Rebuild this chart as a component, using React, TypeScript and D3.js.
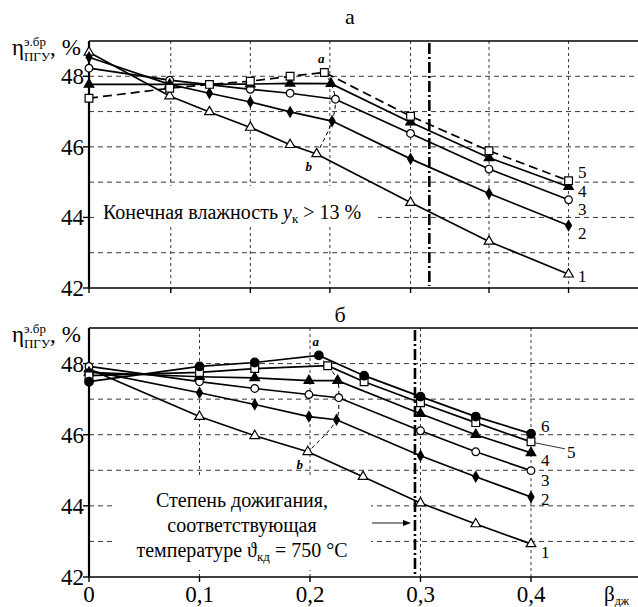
import React from 'react';
import * as d3 from 'd3';

const W = 638;
const H = 607;
const FONT = '"Liberation Serif", "DejaVu Serif", serif';

// панель а: β_дж и η по кривым 1..5
const aBeta1 = [0, 0.073, 0.109, 0.146, 0.182, 0.206, 0.291, 0.362, 0.434];
const aEta1 = [48.68, 47.44, 46.99, 46.55, 46.06, 45.8, 44.42, 43.32, 42.39];
const aBeta2 = [0, 0.073, 0.109, 0.146, 0.182, 0.22, 0.291, 0.362, 0.434];
const aEta2 = [48.54, 47.77, 47.52, 47.27, 46.99, 46.73, 45.66, 44.68, 43.77];
const aBeta3 = [0, 0.073, 0.146, 0.182, 0.223, 0.291, 0.362, 0.434];
const aEta3 = [48.23, 47.89, 47.63, 47.52, 47.35, 46.38, 45.37, 44.5];
const aBeta4 = [0, 0.073, 0.146, 0.182, 0.219, 0.291, 0.362, 0.434];
const aEta4 = [47.77, 47.77, 47.78, 47.8, 47.79, 46.7, 45.69, 44.87];
const aBeta5 = [0, 0.073, 0.109, 0.146, 0.182, 0.213, 0.291, 0.362, 0.434];
const aEta5 = [47.38, 47.66, 47.77, 47.86, 48.0, 48.11, 46.87, 45.89, 45.04];
const aGridBeta = [0.074, 0.146, 0.218, 0.291, 0.362, 0.434];
const aLimitBeta = 0.308;

// панель б: кривые 1..6
const bBeta1 = [0, 0.1, 0.15, 0.198, 0.248, 0.3, 0.35, 0.4];
const bEta1 = [47.85, 46.51, 45.97, 45.52, 44.82, 44.08, 43.49, 42.93];
const bBeta2 = [0, 0.1, 0.15, 0.199, 0.224, 0.3, 0.35, 0.4];
const bEta2 = [47.8, 47.18, 46.85, 46.51, 46.42, 45.41, 44.82, 44.25];
const bBeta3 = [0, 0.1, 0.15, 0.199, 0.226, 0.3, 0.35, 0.4];
const bEta3 = [47.92, 47.49, 47.3, 47.13, 47.04, 46.11, 45.52, 44.99];
const bBeta4 = [0, 0.1, 0.15, 0.199, 0.225, 0.3, 0.35, 0.4];
const bEta4 = [47.75, 47.63, 47.6, 47.52, 47.52, 46.59, 46.0, 45.49];
const bBeta5 = [0, 0.1, 0.15, 0.216, 0.249, 0.3, 0.35, 0.4];
const bEta5 = [47.66, 47.75, 47.86, 47.94, 47.49, 46.9, 46.34, 45.8];
const bBeta6 = [0, 0.1, 0.15, 0.208, 0.249, 0.3, 0.35, 0.4];
const bEta6 = [47.49, 47.92, 48.03, 48.23, 47.66, 47.07, 46.51, 46.03];
const bGridBeta = [0.1, 0.2, 0.3, 0.4];
const bLimitBeta = 0.295;

const xTicks = [0, 0.1, 0.2, 0.3, 0.4];
const xTickLabels = ['0', '0,1', '0,2', '0,3', '0,4'];
const yTicks = [42, 44, 46, 48];
const yGrid = [43, 44, 45, 46, 47, 48];

const x = d3.scaleLinear().domain([0, 0.5]).range([89, 641.5]);
const yA = d3.scaleLinear().domain([42, 49]).range([288, 41]);
const yB = d3.scaleLinear().domain([42, 49]).range([577, 328]);

type Pt = [number, number];
const zip = (b: number[], e: number[]): Pt[] => b.map((v, i) => [v, e[i]]);

const markers = {
  tri: { type: d3.symbolTriangle, size: 40, fill: '#fff' },
  diamond: { type: d3.symbolDiamond, size: 30, fill: '#000' },
  circle: { type: d3.symbolCircle, size: 46, fill: '#fff' },
  triFill: { type: d3.symbolTriangle, size: 40, fill: '#000' },
  square: { type: d3.symbolSquare, size: 60, fill: '#fff' },
  dot: { type: d3.symbolCircle, size: 58, fill: '#000' },
};

const seriesA = [
  { id: '1', pts: zip(aBeta1, aEta1), m: markers.tri, dash: null },
  { id: '2', pts: zip(aBeta2, aEta2), m: markers.diamond, dash: null },
  { id: '3', pts: zip(aBeta3, aEta3), m: markers.circle, dash: null },
  { id: '4', pts: zip(aBeta4, aEta4), m: markers.triFill, dash: null },
  { id: '5', pts: zip(aBeta5, aEta5), m: markers.square, dash: '9,5' },
];
const seriesB = [
  { id: '1', pts: zip(bBeta1, bEta1), m: markers.tri, dash: null },
  { id: '2', pts: zip(bBeta2, bEta2), m: markers.diamond, dash: null },
  { id: '3', pts: zip(bBeta3, bEta3), m: markers.circle, dash: null },
  { id: '4', pts: zip(bBeta4, bEta4), m: markers.triFill, dash: null },
  { id: '5', pts: zip(bBeta5, bEta5), m: markers.square, dash: null },
  { id: '6', pts: zip(bBeta6, bEta6), m: markers.dot, dash: null },
];

// линия a-b через точки излома
const abA: Pt[] = [seriesA[4].pts[5], seriesA[3].pts[4], seriesA[2].pts[4], seriesA[1].pts[5], seriesA[0].pts[5]];
const abB: Pt[] = [seriesB[5].pts[3], seriesB[4].pts[3], seriesB[3].pts[4], seriesB[2].pts[4], seriesB[1].pts[4], seriesB[0].pts[3]];

function Panel({ y, series, ab, gridBeta, limitBeta, top, bottom, title, labelY, labels, textBox, children }: any) {
  const line = d3.line<Pt>().x(d => x(d[0])).y(d => y(d[1]));
  const curve = d3.line<Pt>().x(d => x(d[0])).y(d => y(d[1])).curve(d3.curveCatmullRom);
  return (
    <g>
      {yGrid.map(v => (
        <line key={'h' + v} x1={x(0)} x2={W} y1={y(v)} y2={y(v)} stroke="#222" strokeWidth={0.9} strokeDasharray="5,4" />
      ))}
      {gridBeta.map((b: number) => (
        <line key={'v' + b} x1={x(b)} x2={x(b)} y1={top} y2={bottom} stroke="#222" strokeWidth={0.9} strokeDasharray="3,3" />
      ))}
      <rect x={textBox[0]} y={textBox[1]} width={textBox[2]} height={textBox[3]} fill="#fff" />
      <line x1={x(limitBeta)} x2={x(limitBeta)} y1={top + 2} y2={bottom - 2} stroke="#000" strokeWidth={2.6} strokeDasharray="11,3,2,3" />
      {/* рамка */}
      <line x1={x(0)} x2={W} y1={top} y2={top} stroke="#000" strokeWidth={1.6} />
      <line x1={x(0)} x2={W} y1={bottom} y2={bottom} stroke="#000" strokeWidth={1.6} />
      <line x1={x(0)} x2={x(0)} y1={top} y2={bottom} stroke="#000" strokeWidth={2.2} />
      {yTicks.map(v => (
        <g key={'yt' + v}>
          <line x1={x(0) - 6} x2={x(0)} y1={y(v)} y2={y(v)} stroke="#000" strokeWidth={1.4} />
          <text x={x(0) - 5} y={y(v)} dy="0.35em" textAnchor="end" fontSize={23} fontFamily={FONT}>{v}</text>
        </g>
      ))}
      {[0, ...gridBeta].map((b: number) => (
        <line key={'xt' + b} x1={x(b)} x2={x(b)} y1={bottom} y2={bottom + 5} stroke="#000" strokeWidth={1.4} />
      ))}
      {series.map((s: any) => (
        <path key={'l' + s.id} d={line(s.pts) || ''} fill="none" stroke="#000" strokeWidth={1.7} strokeDasharray={s.dash || undefined} />
      ))}
      <path d={curve(ab) || ''} fill="none" stroke="#000" strokeWidth={1} strokeDasharray="4,3" />
      {series.map((s: any) =>
        s.pts.map((p: Pt, i: number) => (
          <path key={s.id + '-' + i} transform={`translate(${x(p[0])},${y(p[1])})`}
            d={d3.symbol().type(s.m.type).size(s.m.size)() || ''} fill={s.m.fill} stroke="#000" strokeWidth={1.2} />
        ))
      )}
      <text x={x(ab[0][0]) - 3} y={y(ab[0][1]) - 9} fontSize={13} fontStyle="italic" fontWeight="bold" fontFamily={FONT} textAnchor="middle">a</text>
      <text x={x(ab[ab.length - 1][0]) - 8} y={y(ab[ab.length - 1][1]) + 17} fontSize={13} fontStyle="italic" fontWeight="bold" fontFamily={FONT} textAnchor="middle">b</text>
      {labels.map((l: any) => (
        <text key={'n' + l.t} x={l.x} y={l.y} dy="0.33em" fontSize={17} fontFamily={FONT}>{l.t}</text>
      ))}
      <text x={title[0]} y={title[1]} textAnchor="middle" fontSize={22} fontFamily={FONT}>{title[2]}</text>
      <text x={12} y={labelY} fontSize={23} fontFamily={FONT}>
        η<tspan fontSize={13} dy={-9} dx={0}>э.бр</tspan><tspan fontSize={13} dx={-22} dy={15}>ПГУ</tspan><tspan fontSize={23} dy={-6}>,</tspan><tspan dx={6}>%</tspan>
      </text>
      {children}
    </g>
  );
}

export default function App() {
  const lastX = x(0.4) + 10;
  return (
    <svg width={W} height={H} style={{ position: 'absolute', left: 0, top: 0, background: '#fff' }}>
      <rect width={W} height={H} fill="#fff" />
      <Panel y={yA} series={seriesA} ab={abA} gridBeta={aGridBeta} limitBeta={aLimitBeta}
        top={yA(49)} bottom={yA(42)} title={[350, 24, 'а']} labelY={55}
        textBox={[96, 186, 282, 40]}
        labels={[
          { t: '5', x: lastX + 37, y: yA(aEta5[8]) - 8 },
          { t: '4', x: lastX + 37, y: yA(aEta4[7]) + 5 },
          { t: '3', x: lastX + 37, y: yA(aEta3[7]) + 10 },
          { t: '2', x: lastX + 37, y: yA(aEta2[8]) + 8 },
          { t: '1', x: lastX + 37, y: yA(aEta1[8]) + 2 },
        ]}>
        <text x={103} y={219} fontSize={20} fontFamily={FONT}>
          Конечная влажность <tspan fontStyle="italic">y</tspan><tspan fontSize={13} dy={4}>к</tspan><tspan dy={-4}> &gt; 13 %</tspan>
        </text>
      </Panel>
      <Panel y={yB} series={seriesB} ab={abB} gridBeta={bGridBeta} limitBeta={bLimitBeta}
        top={yB(49)} bottom={yB(42)} title={[340, 322, 'б']} labelY={342}
        textBox={[114, 477, 257, 93]}
        labels={[
          { t: '6', x: lastX, y: yB(bEta6[7]) - 7 },
          { t: '5', x: lastX + 26, y: yB(bEta5[7]) + 11 },
          { t: '4', x: lastX, y: yB(bEta4[7]) + 8 },
          { t: '3', x: lastX, y: yB(bEta3[7]) + 10 },
          { t: '2', x: lastX, y: yB(bEta2[7]) + 2 },
          { t: '1', x: lastX, y: yB(bEta1[7]) + 8 },
        ]}>
        <line x1={x(0.4) + 4} x2={lastX + 24} y1={yB(bEta5[7]) + 1} y2={yB(bEta5[7]) + 7} stroke="#000" strokeWidth={0.8} />
        <g fontSize={20} fontFamily={FONT} textAnchor="middle">
          <text x={242} y={507}>Степень дожигания,</text>
          <text x={242} y={532}>соответствующая</text>
          <text x={242} y={557}>температуре ϑ<tspan fontSize={13} dy={4}>кд</tspan><tspan dy={-4}> = 750 °С</tspan></text>
        </g>
        <line x1={372} x2={408} y1={523} y2={523} stroke="#000" strokeWidth={0.9} />
        <path d="M411,523 L403,520 L403,526 Z" fill="#000" />
        {xTicks.map((t, i) => (
          <text key={'xl' + t} x={x(t)} y={602} textAnchor="middle" fontSize={23} fontFamily={FONT}>{xTickLabels[i]}</text>
        ))}
        <text x={604} y={601} fontSize={21} fontFamily={FONT}>β<tspan fontSize={12} dy={4}>дж</tspan></text>
      </Panel>
    </svg>
  );
}
